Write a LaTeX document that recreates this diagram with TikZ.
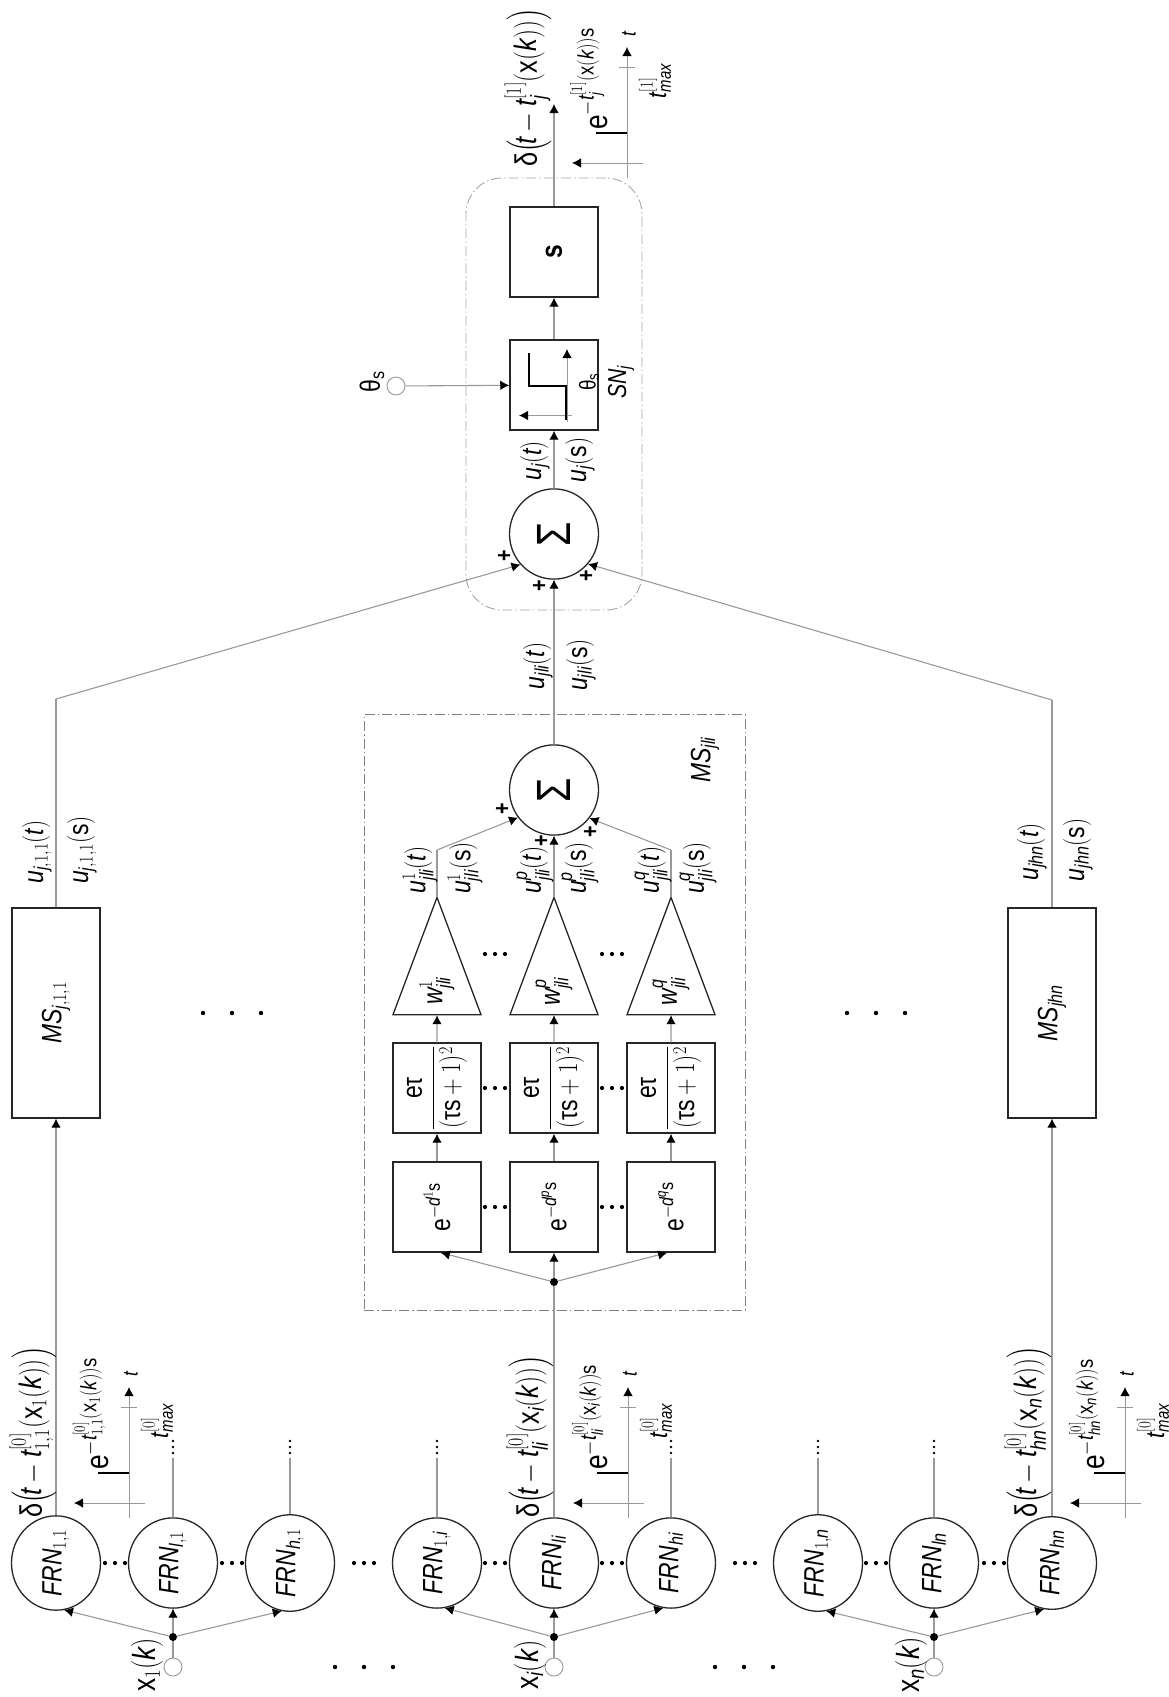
\documentclass[tikz,border=0pt]{standalone}
\usepackage{fix-cm}
\usepackage{amsmath}
\usepackage{fontspec}
\setmainfont{Liberation Sans}
\SetSymbolFont{operators}{normal}{TU}{\rmdefault}{m}{n}
\usetikzlibrary{shapes.geometric, arrows.meta, positioning}
\definecolor{linegray}{gray}{0.6}
\definecolor{boxgray}{gray}{0.5}
\newcommand{\vi}[1]{\mathit{#1}}
\newcommand{\gk}[1]{\text{\upshape #1}}
% delay plot: x, y of the axis foot, name, exponent, index of t max
\newcommand{\delayplot}[5]{%
    \draw[thinaxis, arrowed] (#1,#2) -- ++(0,-131);
    \draw[thinaxis] (#1-8,#2-111) -- ++(16,0);
    \draw[thinaxis, arrowed] (#1+16,#2-15) -- ++(-71,0);
    \draw[line width=2.8pt] (#1,#2-45) -- ++(-31,0);
    \node[lbl, font=\fontsize{21}{23}\selectfont] (#3t) at (#1+2,#2-144) {$\vi{t}$};
    \node[lbl, font=\fontsize{32}{34}\selectfont, anchor=west] (#3e) at (#1-38,#2-48) {$\mathrm{e}^{#4}$};
    \node[lbl, font=\fontsize{26}{28}\selectfont] (#3m) at (#1+28,#2-97) {$\vi{t}^{[#5]}_{\vi{max}}$};
}
\begin{document}
\begin{tikzpicture}[
        x=1pt, y=-1pt,
        lbl/.style={rotate=90, xscale=0.82, inner sep=0pt, font=\fontsize{28}{30}\selectfont},
        inlbl/.style={lbl, font=\fontsize{32}{34}\selectfont},
        spikelbl/.style={lbl, anchor=west, font=\fontsize{31}{33}\selectfont},
        frnnode/.style={lbl, ellipse, draw=black!85, line width=1.3pt, minimum width=110pt, minimum height=89pt},
        sumnode/.style={frnnode, font=\fontsize{48}{50}\selectfont},
        boxnode/.style={lbl, rectangle, draw=black!85, line width=1.5pt, minimum width=110pt, minimum height=88pt},
        msnode/.style={boxnode, minimum width=256pt},
        trinode/.style={lbl, isosceles triangle, isosceles triangle stretches, draw=black!85, line width=1.3pt, minimum width=88pt, minimum height=143pt, anchor=apex},
        inputnode/.style={circle, draw=linegray, line width=0.9pt, fill=white, minimum size=18pt, inner sep=0pt},
        joinnode/.style={circle, fill=black, minimum size=8pt, inner sep=0pt},
        plusnode/.style={lbl, font=\fontsize{24}{26}\selectfont\bfseries},
        conn/.style={draw=linegray, line width=1.1pt},
        arrowed/.style={-{Latex[black, length=9pt, width=9.5pt]}},
        thinaxis/.style={draw=linegray, line width=0.9pt},
        framebox/.style={draw=boxgray, line width=0.9pt, dash pattern=on 10pt off 3pt on 1.5pt off 3pt}
    ]
        \useasboundingbox (0,0) rectangle (1169,1697);

        % Frames
        \node[framebox, rectangle, minimum width=381pt, minimum height=596pt] (msframe) at (554.5,1012) {};
        \node[framebox, rectangle, rounded corners=36pt, minimum width=176pt, minimum height=432pt, draw=boxgray!70] (snframe) at (554,394) {};

        % Inputs
        \node[inputnode] (in1) at (173,1667) {};
        \node[inputnode] (ini) at (554,1667) {};
        \node[inputnode] (inn) at (934,1667) {};
        \node[joinnode] (j1) at (173,1637) {};
        \node[joinnode] (ji) at (554,1637) {};
        \node[joinnode] (jn) at (934,1637) {};
        \node[inlbl] (x1) at (147,1665) {$\mathrm{x}_{1}(\vi{k})$};
        \node[inlbl] (xi) at (530,1665) {$\mathrm{x}_{\vi{i}}(\vi{k})$};
        \node[inlbl] (xn) at (911,1665) {$\mathrm{x}_{\vi{n}}(\vi{k})$};

        % FRN row
        \node[frnnode] (frn11) at (56,1563) {$\vi{FRN}_{1,1}$};
        \node[frnnode] (frnl1) at (173,1563) {$\vi{FRN}_{\vi{l},1}$};
        \node[frnnode] (frnh1) at (290,1563) {$\vi{FRN}_{\vi{h},1}$};
        \node[frnnode] (frn1i) at (437,1563) {$\vi{FRN}_{1,\vi{i}}$};
        \node[frnnode] (frnli) at (554,1563) {$\vi{FRN}_{\vi{li}}$};
        \node[frnnode] (frnhi) at (671,1563) {$\vi{FRN}_{\vi{hi}}$};
        \node[frnnode] (frn1n) at (818,1563) {$\vi{FRN}_{1,\vi{n}}$};
        \node[frnnode] (frnln) at (934,1563) {$\vi{FRN}_{\vi{ln}}$};
        \node[frnnode] (frnhn) at (1052,1563) {$\vi{FRN}_{\vi{hn}}$};

        % Input connections
        \draw[conn] (in1) -- (j1);
        \draw[conn] (ini) -- (ji);
        \draw[conn] (inn) -- (jn);
        \draw[conn, arrowed] (j1) -- (frnl1);
        \draw[conn, arrowed] (j1) -- (frn11.188);
        \draw[conn, arrowed] (j1) -- (frnh1.172);
        \draw[conn, arrowed] (ji) -- (frnli);
        \draw[conn, arrowed] (ji) -- (frn1i.188);
        \draw[conn, arrowed] (ji) -- (frnhi.172);
        \draw[conn, arrowed] (jn) -- (frnln);
        \draw[conn, arrowed] (jn) -- (frn1n.188);
        \draw[conn, arrowed] (jn) -- (frnhn.172);

        % Unfinished outputs
        \coordinate (endl1) at (173,1458);
        \coordinate (endh1) at (290,1458);
        \coordinate (end1i) at (437,1458);
        \coordinate (endhi) at (671,1458);
        \coordinate (end1n) at (818,1458);
        \coordinate (endln) at (934,1458);
        \draw[conn] (frnl1) -- (endl1);
        \draw[conn] (frnh1) -- (endh1);
        \draw[conn] (frn1i) -- (end1i);
        \draw[conn] (frnhi) -- (endhi);
        \draw[conn] (frn1n) -- (end1n);
        \draw[conn] (frnln) -- (endln);
        \foreach \colx in {173,290,437,671,818,934}
            \foreach \ky in {1441,1447,1453}
                \fill (\colx,\ky) circle (1.4);

        % Dots
        \foreach \colx in {115,232,364,495,612,745,876,994}
            \foreach \kx in {-10,0,10}
                \fill (\colx+\kx,1563) circle (2.1);
        \foreach \rowy in {954,1088,1207}
            \foreach \colx in {495,612}
                \foreach \kx in {-10,0,10}
                    \fill (\colx+\kx,\rowy) circle (2.1);
        \foreach \colx in {232,876}
            \foreach \kx in {-29,0,29}
                \fill (\colx+\kx,1013) circle (2.2);
        \foreach \colx in {364,744}
            \foreach \kx in {-29,0,29}
                \fill (\colx+\kx,1667) circle (2.2);

        % Membrane systems at the sides
        \node[msnode] (ms11) at (56,1013) {$\vi{MS}_{\vi{j},1,1}$};
        \node[msnode] (mshn) at (1052,1013) {$\vi{MS}_{\vi{jhn}}$};
        \draw[conn, arrowed] (frn11) -- (ms11);
        \draw[conn, arrowed] (frnhn) -- (mshn);

        % Central membrane system
        \node[joinnode] (jm) at (554,1282) {};
        \node[boxnode] (da) at (437,1207) {$\mathrm{e}^{-\vi{d}^{1}\mathrm{s}}$};
        \node[boxnode] (dp) at (554,1207) {$\mathrm{e}^{-\vi{d}^{\vi{p}}\mathrm{s}}$};
        \node[boxnode] (dq) at (671,1207) {$\mathrm{e}^{-\vi{d}^{\vi{q}}\mathrm{s}}$};
        \node[boxnode] (fa) at (437,1088) {$\dfrac{\mathrm{e}\gk{τ}}{(\gk{τ}\mathrm{s}+1)^{2}}$};
        \node[boxnode] (fp) at (554,1088) {$\dfrac{\mathrm{e}\gk{τ}}{(\gk{τ}\mathrm{s}+1)^{2}}$};
        \node[boxnode] (fq) at (671,1088) {$\dfrac{\mathrm{e}\gk{τ}}{(\gk{τ}\mathrm{s}+1)^{2}}$};
        \node[trinode] (wa) at (437,896) {$\vi{w}^{1}_{\vi{jli}}$};
        \node[trinode] (wp) at (554,896) {$\vi{w}^{\vi{p}}_{\vi{jli}}$};
        \node[trinode] (wq) at (671,896) {$\vi{w}^{\vi{q}}_{\vi{jli}}$};
        \node[sumnode] (summ) at (554,790) {\gk{Σ}};
        \coordinate (ka) at (437,850);
        \coordinate (kq) at (671,850);
        \draw[conn] (frnli) -- (jm);
        \draw[conn, arrowed] (jm) -- (dp);
        \draw[conn, arrowed] (jm) -- (da.184);
        \draw[conn, arrowed] (jm) -- (dq.176);
        \draw[conn, arrowed] (da) -- (fa);
        \draw[conn, arrowed] (dp) -- (fp);
        \draw[conn, arrowed] (dq) -- (fq);
        \draw[conn, arrowed] (fa) -- (wa.west);
        \draw[conn, arrowed] (fp) -- (wp.west);
        \draw[conn, arrowed] (fq) -- (wq.west);
        \draw[conn] (wa.apex) -- (ka);
        \draw[conn] (wq.apex) -- (kq);
        \draw[conn, arrowed] (ka) -- (summ.133);
        \draw[conn, arrowed] (wp.apex) -- (summ);
        \draw[conn, arrowed] (kq) -- (summ.226);
        \node[lbl] (uat) at (420,870) {$\vi{u}^{1}_{\vi{jli}}(\vi{t})$};
        \node[lbl] (uas) at (465,868) {$\vi{u}^{1}_{\vi{jli}}(\mathrm{s})$};
        \node[lbl] (upt) at (535,870) {$\vi{u}^{\vi{p}}_{\vi{jli}}(\vi{t})$};
        \node[lbl] (ups) at (580,868) {$\vi{u}^{\vi{p}}_{\vi{jli}}(\mathrm{s})$};
        \node[lbl] (uqt) at (653,870) {$\vi{u}^{\vi{q}}_{\vi{jli}}(\vi{t})$};
        \node[lbl] (uqs) at (698,868) {$\vi{u}^{\vi{q}}_{\vi{jli}}(\mathrm{s})$};
        \node[plusnode] (pa) at (503,809) {+};
        \node[plusnode] (pp) at (542,841) {+};
        \node[plusnode] (pq) at (591,832) {+};
        \node[lbl] (msname) at (705,760) {$\vi{MS}_{\vi{jli}}$};

        % Spiking neuron
        \node[sumnode] (sumj) at (554,534) {\gk{Σ}};
        \node[boxnode] (sn) at (554,385) {};
        \node[boxnode, font=\fontsize{30}{32}\selectfont\bfseries] (sbox) at (554,252) {s};
        \node[inputnode] (thin) at (396,386) {};
        \node[lbl] (thname) at (372,382) {$\gk{θ}_{\mathrm{s}}$};
        \coordinate (k11) at (56,699);
        \coordinate (khn) at (1052,700);
        \coordinate (outj) at (554,104);
        \draw[conn] (ms11) -- (k11);
        \draw[conn] (mshn) -- (khn);
        \draw[conn, arrowed] (k11) -- (sumj.138);
        \draw[conn, arrowed] (summ) -- (sumj);
        \draw[conn, arrowed] (khn) -- (sumj.223);
        \draw[conn, arrowed] (sumj) -- (sn);
        \draw[conn, arrowed] (sn) -- (sbox);
        \draw[conn, arrowed] (sbox) -- (outj);
        \draw[conn, arrowed] (thin) -- (sn);
        \node[lbl] (ujt) at (535,461) {$\vi{u}_{\vi{j}}(\vi{t})$};
        \node[lbl] (ujs) at (580,460) {$\vi{u}_{\vi{j}}(\mathrm{s})$};
        \node[lbl] (ujlt) at (538,666) {$\vi{u}_{\vi{jli}}(\vi{t})$};
        \node[lbl] (ujls) at (581,665) {$\vi{u}_{\vi{jli}}(\mathrm{s})$};
        \node[lbl] (u11t) at (37,852) {$\vi{u}_{\vi{j},1,1}(\vi{t})$};
        \node[lbl] (u11s) at (82,850) {$\vi{u}_{\vi{j},1,1}(\mathrm{s})$};
        \node[lbl] (uhnt) at (1032,852) {$\vi{u}_{\vi{jhn}}(\vi{t})$};
        \node[lbl] (uhns) at (1078,850) {$\vi{u}_{\vi{jhn}}(\mathrm{s})$};
        \node[plusnode] (p1) at (505,556) {+};
        \node[plusnode] (p2) at (540,586) {+};
        \node[plusnode] (p3) at (587,576) {+};
        \node[lbl, font=\fontsize{26}{28}\selectfont] (snname) at (621,382) {$\vi{SN}_{\vi{j}}$};

        % Threshold plot
        \draw[thinaxis, arrowed] (572,415.5) -- (519,415.5);
        \draw[thinaxis, arrowed] (567,422) -- (567,349);
        \draw[line width=2.4pt] (529,353) -- (529,386) -- (566,386) -- (566,420);
        \node[lbl, font=\fontsize{23}{25}\selectfont] (ththr) at (589,382) {$\gk{θ}_{\mathrm{s}}$};

        % Spike trains
        \node[spikelbl] (d11) at (33,1518) {$\gk{δ}\bigl(\!\vi{t}-\vi{t}^{[0]}_{1,1}(\mathrm{x}_{1}(\vi{k}))\bigr)$};
        \node[spikelbl] (dli) at (530,1518) {$\gk{δ}\bigl(\!\vi{t}-\vi{t}^{[0]}_{\vi{li}}(\mathrm{x}_{\vi{i}}(\vi{k}))\bigr)$};
        \node[spikelbl] (dhn) at (1028,1518) {$\gk{δ}\bigl(\!\vi{t}-\vi{t}^{[0]}_{\vi{hn}}(\mathrm{x}_{\vi{n}}(\vi{k}))\bigr)$};
        \node[spikelbl] (dout) at (528,167) {$\gk{δ}\bigl(\!\vi{t}-\vi{t}^{[1]}_{\vi{j}}(\mathrm{x}(\vi{k}))\bigr)$};
        \delayplot{129}{1518}{pa}{-\vi{t}^{[0]}_{1,1}(\mathrm{x}_{1}(\vi{k}))\mathrm{s}}{0}
        \delayplot{628}{1518}{pb}{-\vi{t}^{[0]}_{\vi{li}}(\mathrm{x}_{\vi{i}}(\vi{k}))\mathrm{s}}{0}
        \delayplot{1125}{1518}{pc}{-\vi{t}^{[0]}_{\vi{hn}}(\mathrm{x}_{\vi{n}}(\vi{k}))\mathrm{s}}{0}
        \delayplot{627}{178}{pd}{-\vi{t}^{[1]}_{\vi{j}}(\mathrm{x}(\vi{k}))\mathrm{s}}{1}
    \end{tikzpicture}
\end{document}
